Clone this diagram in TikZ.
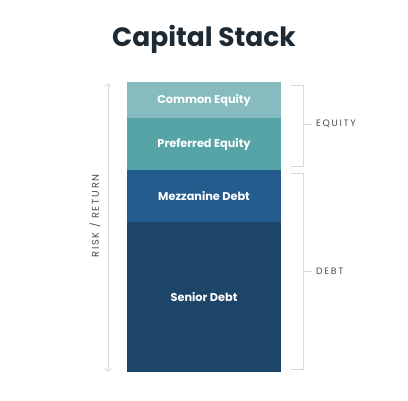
\documentclass[tikz,border=0pt]{standalone}
\usepackage{fontspec}
\setmainfont{Poppins}
\newfontfamily\spaced[LetterSpace=18]{Poppins}
\usetikzlibrary{positioning,arrows.meta}
\definecolor{commoncol}{HTML}{86BCBF}
\definecolor{prefcol}{HTML}{57A4A7}
\definecolor{mezzcol}{HTML}{245C8D}
\definecolor{seniorcol}{HTML}{1C4567}
\definecolor{linecol}{HTML}{DADADA}
\definecolor{textcol}{HTML}{4A4A4A}
\definecolor{titlecol}{HTML}{1E2A33}
\begin{document}
\begin{tikzpicture}[x=1pt,y=-1pt,
  seg/.style = {minimum width=154pt, inner sep=0pt, outer sep=0pt, text=white,
    font=\fontsize{11.3}{13}\selectfont\bfseries},
  side/.style = {font=\spaced\fontsize{9.3}{11}\selectfont, text=textcol, inner sep=0pt},
  brace/.style = {draw=linecol, line width=0.8pt},
  node distance=0pt]
\useasboundingbox (0,0) rectangle (408,400);
\node[font=\fontsize{26.5}{30}\selectfont\bfseries, text=titlecol] (title) at (204,39) {Capital Stack};
% the stack
\node[seg, fill=commoncol, minimum height=36pt] (common) at (204,100) {Common Equity};
\node[seg, fill=prefcol, minimum height=52pt] (pref) [below=of common] {Preferred Equity};
\node[seg, fill=mezzcol, minimum height=52pt] (mezz) [below=of pref] {Mezzanine Debt};
\node[seg, fill=seniorcol, minimum height=150pt] (senior) [below=of mezz] {Senior Debt};
% risk arrow
\coordinate (rtop) at (108,83);
\coordinate (rbot) at (108,372);
\draw[linecol, line width=0.8pt, {Straight Barb[length=3pt,width=6pt]}-{Straight Barb[length=3pt,width=6pt]}] (rtop) -- (rbot);
\node[side, rotate=90, font=\spaced\fontsize{9.8}{11}\selectfont] (risk) at (95,216) {RISK / RETURN};
% brackets
\coordinate (eqa) at (291,85);
\coordinate (eqb) at (291,166);
\coordinate (eqm) at (303,124);
\draw[brace] (eqa) -| (303,166) -- (eqb);
\draw[brace] (eqm) -- ++(9,0) coordinate (eqt);
\node[side, anchor=west] (equity) [right=4pt of eqt] {EQUITY};
\coordinate (dba) at (291,173);
\coordinate (dbb) at (291,369);
\coordinate (dbm) at (303,271);
\draw[brace] (dba) -| (303,369) -- (dbb);
\draw[brace] (dbm) -- ++(9,0) coordinate (dbt);
\node[side, anchor=west] (debt) [right=4pt of dbt] {DEBT};
\end{tikzpicture}
\end{document}
